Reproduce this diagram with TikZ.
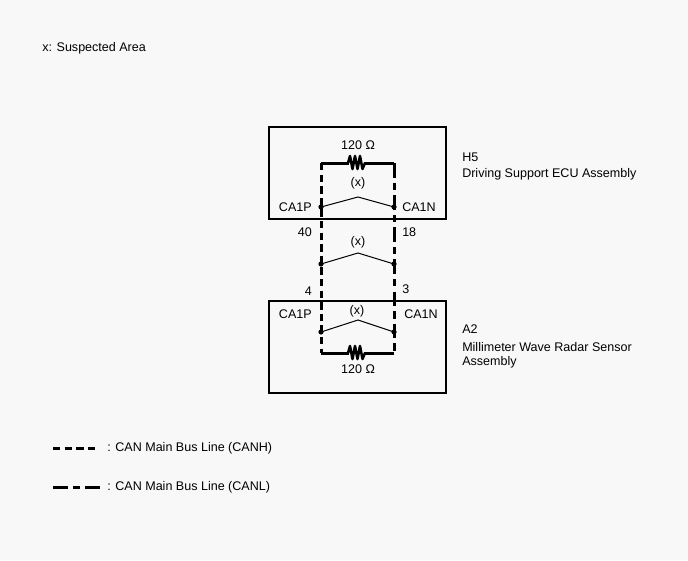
\documentclass[tikz,border=0pt]{standalone}
\usepackage{fontspec}
\setmainfont{Liberation Sans}
\tikzset{
  canh/.style={line width=2.25pt, dash pattern=on 5.5pt off 3.2pt},
  canl/.style={line width=2.25pt, dash pattern=on 11pt off 3.8pt on 5.5pt off 3.8pt},
  resline/.style={line width=2.25pt},
  zigline/.style={line width=1.9pt, line join=round},
  fuseline/.style={line width=0.75pt},
  boxline/.style={line width=1pt},
  lbl/.style={inner sep=0.75pt, font=\fontsize{9.4}{11}\selectfont}
}
\begin{document}
\begin{tikzpicture}[x=0.75pt,y=0.75pt,yscale=-1,xscale=1]
%set diagram left start at 0, and has height of 560
\fill[fill={rgb, 255:red, 248; green, 248; blue, 248 }] (0,0) rectangle (688,560);
\useasboundingbox (0,0) rectangle (688,560);

% Text Node
\draw (41,48) node [anchor=west] [lbl] (title) {x: Suspected Area};

%Boxes
\draw [boxline] (269,127) rectangle (446,219);
\draw [boxline] (269,301) rectangle (446,393);

%Corners and pins
\coordinate (tl) at (321,163);
\coordinate (tr) at (394,163);
\coordinate (bl) at (321,353);
\coordinate (br) at (394,353);
\coordinate (hP) at (321,207);
\coordinate (hN) at (394,207);
\coordinate (mP) at (321,264);
\coordinate (mN) at (394,264);
\coordinate (aP) at (321,332);
\coordinate (aN) at (394,332);
\coordinate (hTop) at (358,197);
\coordinate (mTop) at (358,253);
\coordinate (aTop) at (358,320);

%Bus lines
\draw [canh] (tl) -- (bl);
\draw [canl] (tr) -- (br);

%Resistors
\draw [resline] (tl) -- (349,163);
\draw [resline] (364,163) -- (tr);
\draw [zigline] (348,163) -- (350,156) -- (352.5,169) -- (355,156) -- (357.5,169) -- (360,156) -- (362.5,169) -- (365,163);
\draw [resline] (bl) -- (349,353);
\draw [resline] (364,353) -- (br);
\draw [zigline] (348,353) -- (350,346) -- (352.5,359) -- (355,346) -- (357.5,359) -- (360,346) -- (362.5,359) -- (365,353);

%Suspected lines
\draw [fuseline] (hP) -- (hTop) -- (hN);
\draw [fuseline] (mP) -- (mTop) -- (mN);
\draw [fuseline] (aP) -- (aTop) -- (aN);

%Dots
\foreach \p in {hP,hN,mP,mN,aP,aN}
  \fill (\p) circle [radius=2.6];

% Text Node
\draw (358,145) node [lbl] (rH) {120 Ω};
\draw (358,369) node [lbl] (rA) {120 Ω};
\draw (358,183) node [lbl] (xH) {(x)};
\draw (358,242) node [lbl] (xM) {(x)};
\draw (357,311) node [lbl] (xA) {(x)};
\draw (313,207) node [anchor=east] [lbl] (pH) {CA1P};
\draw (401,207) node [anchor=west] [lbl] (nH) {CA1N};
\draw (313,232) node [anchor=east] [lbl] (p40) {40};
\draw (401,232) node [anchor=west] [lbl] (n18) {18};
\draw (313,291) node [anchor=east] [lbl] (p4) {4};
\draw (401,289) node [anchor=west] [lbl] (n3) {3};
\draw (313,314) node [anchor=east] [lbl] (pA) {CA1P};
\draw (403,314) node [anchor=west] [lbl] (nA) {CA1N};

\draw (461,157) node [anchor=west] [lbl] (h5) {H5};
\draw (461,174) node [anchor=west] [lbl] (h5name) {Driving Support ECU Assembly};
\draw (461,329) node [anchor=west] [lbl] (a2) {A2};
\draw (461,347) node [anchor=west] [lbl] (a2name) {Millimeter Wave Radar Sensor};
\draw (461,362) node [anchor=west] [lbl] (a2more) {Assembly};

%Legend
\coordinate (lgHa) at (53,448);
\coordinate (lgHb) at (96,448);
\coordinate (lgLa) at (53,487);
\coordinate (lgLb) at (101,487);
\draw [canh] (lgHa) -- (lgHb);
\draw [canl] (lgLa) -- (lgLb);
\draw (106,448) node [anchor=west] [lbl] (lgH) {: CAN Main Bus Line (CANH)};
\draw (106,487) node [anchor=west] [lbl] (lgL) {: CAN Main Bus Line (CANL)};

\end{tikzpicture}
\end{document}
